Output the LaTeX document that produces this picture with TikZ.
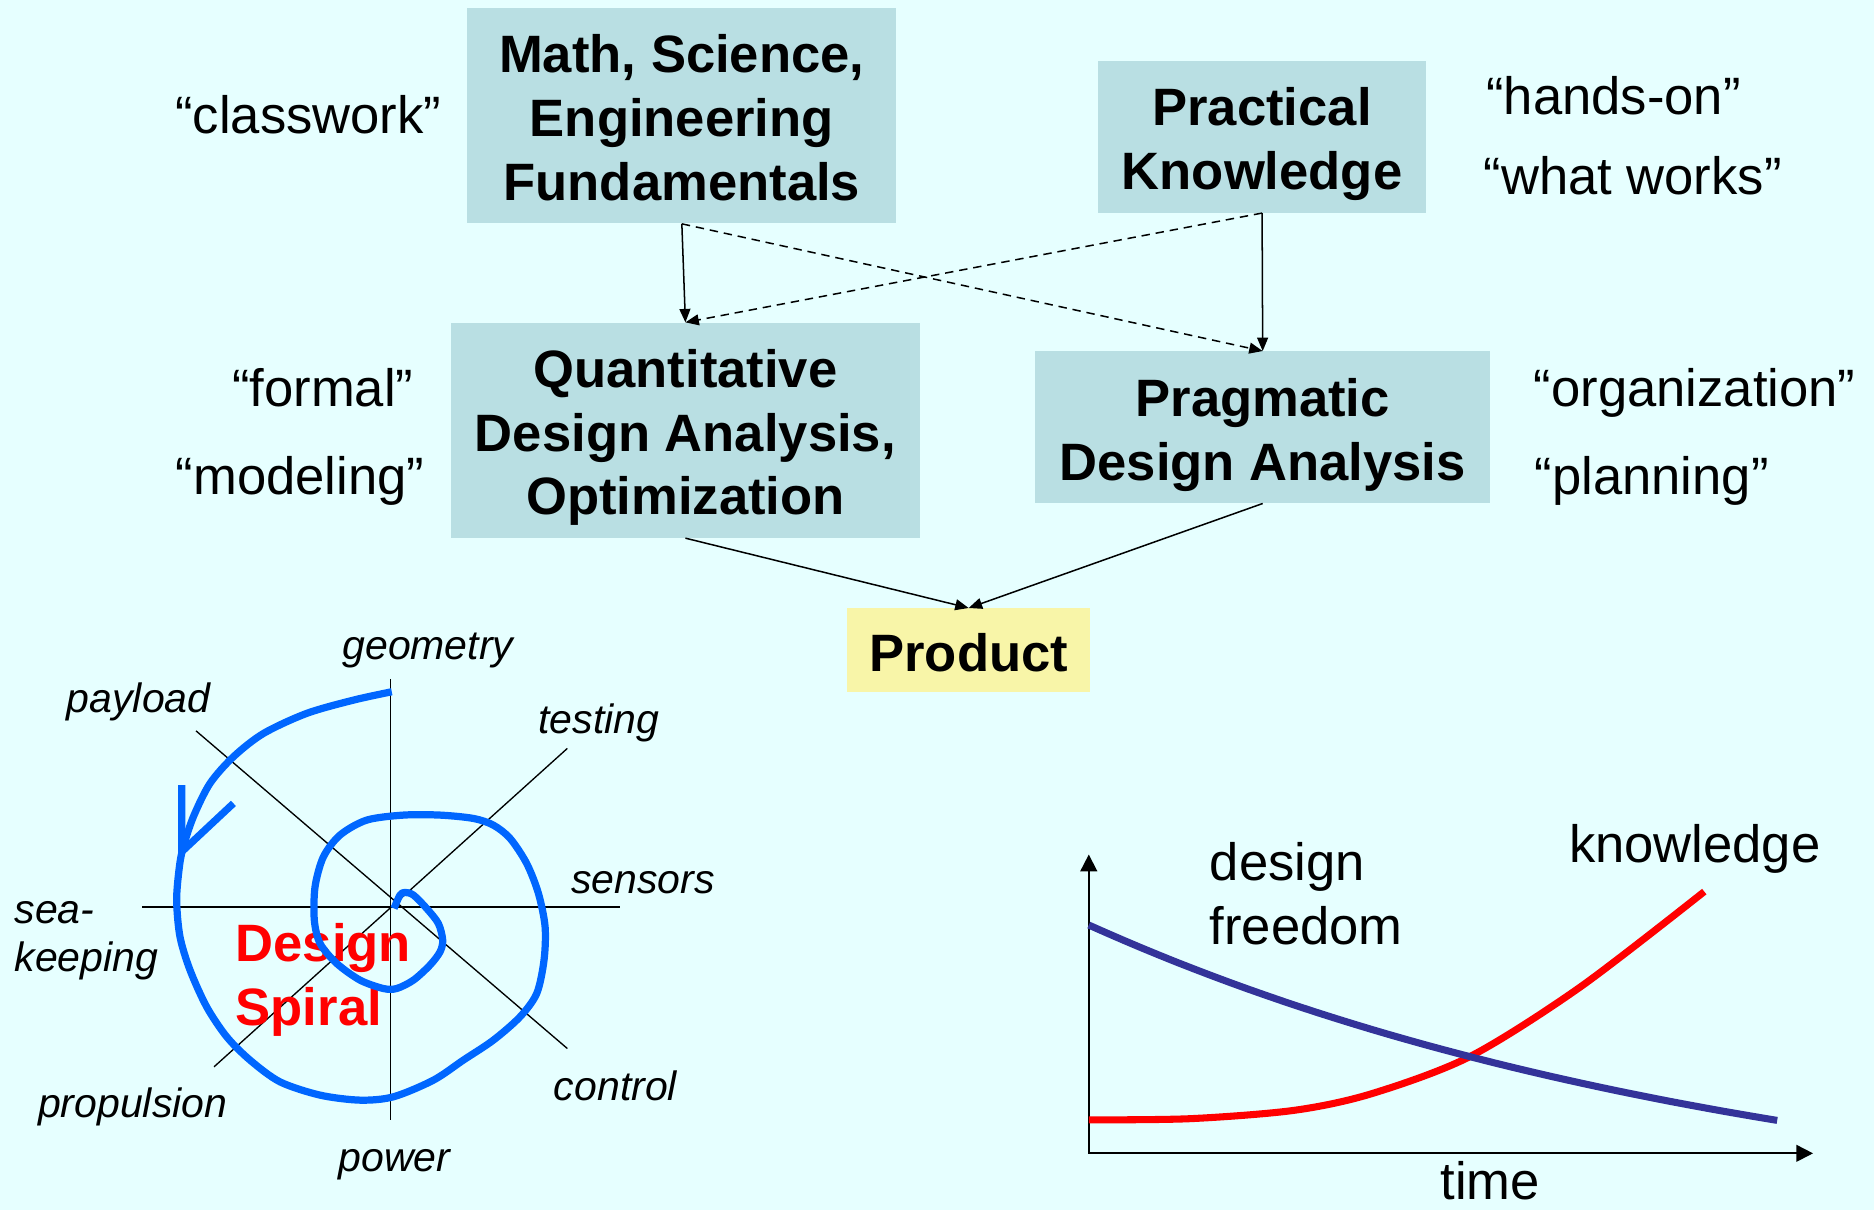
\documentclass[tikz,border=0pt]{standalone}
\usepackage{fontspec}
\setmainfont{Liberation Sans}
\usetikzlibrary{arrows.meta}

\definecolor{bgcyan}{HTML}{E6FFFF}
\definecolor{boxteal}{HTML}{B9DFE3}
\definecolor{prodyellow}{HTML}{F8F5A8}
\definecolor{spiralblue}{HTML}{0066FF}
\definecolor{freedomblue}{HTML}{333399}

% invisible rules that keep box text centred the same way in every box
\newcommand{\topstrut}{\rule{0pt}{31.8pt}}
\newcommand{\botstrut}{\rule[-7pt]{0pt}{0pt}}

\begin{document}
\begin{tikzpicture}[
    x=0.25mm, y=-0.25mm,
    box/.style={fill=boxteal, inner sep=0pt, align=center, font=\bfseries\fontsize{31.3}{38}\selectfont},
    quote/.style={inner sep=0pt, anchor=base, font=\fontsize{31.3}{38}\selectfont},
    link/.style={line width=0.9pt, -{Triangle[length=8pt, width=6.5pt]}},
    dashlink/.style={link, dash pattern=on 5pt off 3.5pt},
    spoke/.style={line width=0.8pt},
    spokelabel/.style={inner sep=0pt, anchor=base, font=\itshape\fontsize{24.4}{28.6}\selectfont},
    spiral/.style={draw=spiralblue, line width=4.3pt, line join=round},
    curve/.style={line width=4.2pt},
    plotaxis/.style={line width=1.1pt, {Triangle[length=10pt, width=10pt]}-{Triangle[length=10pt, width=10pt]}}
]

    % background
    \fill[bgcyan] (0,0) rectangle (1568,1012);
    \useasboundingbox (0,0) rectangle (1568,1012);

    % ==================== BOXES ====================
    \node[box, minimum width=89.75mm, minimum height=45mm] (fundamentals) at (570.5, 97) {\topstrut Math, Science,\\Engineering\\Fundamentals\botstrut};
    \node[box, minimum width=68.5mm, minimum height=31.75mm] (practical) at (1056, 114.5) {\topstrut Practical\\Knowledge\botstrut};
    \node[box, minimum width=98.25mm, minimum height=45mm] (quantitative) at (573.5, 360) {\topstrut Quantitative\\Design Analysis,\\Optimization\botstrut};
    \node[box, minimum width=95.25mm, minimum height=31.75mm] (pragmatic) at (1056.5, 357.5) {\topstrut Pragmatic\\Design Analysis\botstrut};
    \node[box, fill=prodyellow, minimum width=50.75mm, minimum height=17.5mm] (product) at (810.5, 544) {\topstrut Product\botstrut};

    % Side remarks
    \node[quote] (classwork) at (258, 112) {“classwork”};
    \node[quote] (handson) at (1350, 96) {“hands-on”};
    \node[quote] (whatworks) at (1366, 163) {“what works”};
    \node[quote] (formal) at (270, 340) {“formal”};
    \node[quote] (modeling) at (251, 414) {“modeling”};
    \node[quote] (organization) at (1418, 340) {“organization”};
    \node[quote] (planning) at (1382, 414) {“planning”};

    % Arrows between boxes
    \draw[link] (fundamentals.south) -- (quantitative.north);
    \draw[dashlink] (fundamentals.south) -- (pragmatic.north);
    \draw[dashlink] (practical.south) -- (quantitative.north);
    \draw[link] (practical.south) -- (pragmatic.north);
    \draw[link] (quantitative.south) -- (product.north);
    \draw[link] (pragmatic.south) -- (product.north);

    % ==================== DESIGN SPIRAL ====================
    % Spokes
    \draw[spoke] (327,568) -- (327,937);
    \draw[spoke] (119,759) -- (519,759);
    \draw[spoke] (164,611.5) -- (474.7,877.3);
    \draw[spoke] (474.7,626.2) -- (179.1,892.6);

    % Spoke labels
    \node[spokelabel] (geometry) at (358, 552) {geometry};
    \node[spokelabel] (payload) at (116, 596) {payload};
    \node[spokelabel] (testing) at (501, 614) {testing};
    \node[spokelabel] (sensors) at (538, 748) {sensors};
    \node[spokelabel, anchor=west, align=left] (seakeeping) at (12, 787) {sea-\\keeping};
    \node[spokelabel] (control) at (515, 921) {control};
    \node[spokelabel] (propulsion) at (111, 935) {propulsion};
    \node[spokelabel] (power) at (330, 980) {power};

    \node[anchor=west, align=left, inner sep=0pt, text=red, font=\bfseries\fontsize{31.3}{38}\selectfont] (spiraltitle) at (197, 820) {Design\\Spiral};

    % Spiral, from the centre outwards
    \draw[spiral] plot[smooth] coordinates {
        (329.7,760.1) (334.7,748.9) (338.9,746.7) (345.9,748.9) (357.0,760.1)
        (366.8,772.7) (370.4,786.6) (368.2,796.4) (359.8,807.5) (345.9,820.1)
        (331.9,827.1) (320.8,827.1) (301.3,820.1) (281.7,806.1) (267.8,789.4)
        (263.0,769.9) (263.6,742.0) (270.6,716.9) (284.5,698.7) (306.8,686.2)
        (337.5,682.0) (368.2,682.0) (396.1,684.8) (412.8,690.4) (426.8,701.5)
        (440.7,722.5) (450.5,747.5) (456.1,775.5) (455.2,803.3) (449.1,831.2)
        (435.1,850.8) (412.8,870.3) (387.7,887.0) (362.6,903.8) (329.2,917.7)
        (301.3,920.5) (267.8,916.3) (234.3,905.2) (209.2,887.0) (189.7,867.5)
        (172.9,842.4) (159.0,811.7) (150.6,783.8) (147.8,753.1) (150.1,725.2)
        (153.4,708.5) (161.8,683.4) (175.7,655.5) (195.3,633.2) (220.4,613.7)
        (256.6,596.9) (295.7,585.8) (327.8,578.8)};

    % Arrow head on the spiral
    \draw[spiral] (152,656.9) -- (152,712.7) -- (195.3,672.2);

    % ==================== FREEDOM / KNOWLEDGE PLOT ====================
    \draw[plotaxis] (911,715) -- (911,965) -- (1517,965);

    \draw[curve, red] plot[smooth] coordinates {(911,937) (996,936) (1083,929) (1148,915) (1230,884) (1322,826) (1426,746)};
    \draw[curve, freedomblue] plot[domain=911:1487, samples=40] (\x, {774 + 257*(1 - exp(-0.00175*(\x - 911)))});

    \node[anchor=west, align=left, inner sep=0pt, font=\fontsize{31.3}{38}\selectfont] (freedom) at (1012, 748) {design\\freedom};
    \node[quote] (knowledge) at (1418, 722) {knowledge};
    \node[quote] (time) at (1247, 1004) {time};

\end{tikzpicture}
\end{document}
